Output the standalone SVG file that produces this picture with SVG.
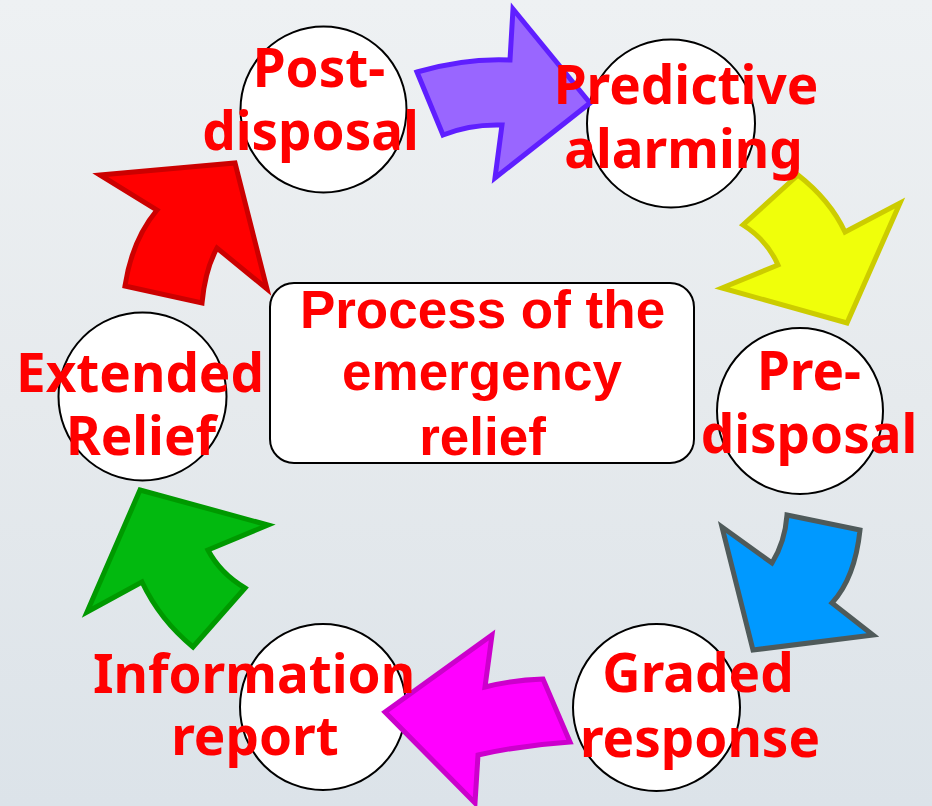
<svg xmlns="http://www.w3.org/2000/svg" width="932" height="806" viewBox="0 0 932 806">
<defs>
<linearGradient id="bg" x1="0" y1="0" x2="0" y2="1">
<stop offset="0" stop-color="#eef1f3"/>
<stop offset="0.5" stop-color="#e6eaed"/>
<stop offset="1" stop-color="#dce3e9"/>
</linearGradient>
<style>
.node circle{fill:#ffffff;stroke:#000000;stroke-width:2}
.nt{font-family:"Noto Sans","Open Sans","DejaVu Sans",sans-serif;font-weight:bold;font-size:53px;fill:#ff0000;text-anchor:middle}
.ct{font-family:"Liberation Sans",Arial,sans-serif;font-weight:bold;font-size:53px;fill:#ff0000;text-anchor:middle}
.arrow{stroke-width:5;stroke-linejoin:miter}
</style>
</defs>
<rect x="0" y="0" width="932" height="806" fill="url(#bg)"/>

<g id="center">
<rect x="270" y="283" width="424" height="180" rx="24" ry="24" fill="#ffffff" stroke="#000000" stroke-width="2"/>
</g>

<g id="node-post-disposal" class="node"><circle cx="323.5" cy="109.5" r="83"/></g>
<g id="node-predictive-alarming" class="node"><circle cx="671" cy="123.5" r="84"/></g>
<g id="node-pre-disposal" class="node"><circle cx="800" cy="411" r="83"/></g>
<g id="node-graded-response" class="node"><circle cx="656.5" cy="707.5" r="83.5"/></g>
<g id="node-information-report" class="node"><circle cx="323" cy="707" r="83"/></g>
<g id="node-extended-relief" class="node"><circle cx="142.5" cy="396.5" r="84"/></g>

<g id="connectors">
<path class="arrow" d="M417,72 Q465,58 510,60 L513,9 L590,103 L495,178 L502,125 Q470,124 443,135 Z" fill="#9966ff" stroke="#5f1fff"/>
<path class="arrow" d="M798,175 Q830,200 845,232 L900,203 L847,323 L722,288 L778,265 Q767,240 743,225 Z" fill="#f0ff0a" stroke="#cccc00"/>
<path class="arrow" d="M787,515 L860,530 Q855,578 832,603 L873,635 L753,650 L722,527 L772,563 Q785,542 787,515 Z" fill="#0099ff" stroke="#4f5a5a"/>
<path class="arrow" d="M492,635 L485,687 Q513,680 543,679 L570,742 Q523,745 478,755 L475,803 L385,712 Z" fill="#ff00ff" stroke="#cc00cc"/>
<path class="arrow" d="M140,490 L268,525 L208,550 Q220,573 245,588 L193,647 Q160,620 142,582 L87,612 Z" fill="#02b90f" stroke="#009900"/>
<path class="arrow" d="M100,175 L235,163 L267,289 L217,248 Q205,270 202,303 L125,286 Q132,240 157,210 Z" fill="#ff0000" stroke="#cc0000"/>
</g>

<g id="labels">
<text class="ct" x="482.5" y="328">Process of the</text>
<text class="ct" x="482" y="390">emergency</text>
<text class="ct" x="482.5" y="455">relief</text>

<text class="nt" x="319" y="87">Post-</text>
<text class="nt" x="310.5" y="150">disposal</text>
<text class="nt" x="686" y="104">Predictive</text>
<text class="nt" x="683.5" y="168">alarming</text>
<text class="nt" x="809" y="390">Pre-</text>
<text class="nt" x="809" y="453">disposal</text>
<text class="nt" x="698" y="692">Graded</text>
<text class="nt" x="700" y="757">response</text>
<text class="nt" x="254" y="693">Information</text>
<text class="nt" x="255" y="755">report</text>
<text class="nt" x="140" y="392">Extended</text>
<text class="nt" x="141" y="455">Relief</text>
</g>
</svg>
